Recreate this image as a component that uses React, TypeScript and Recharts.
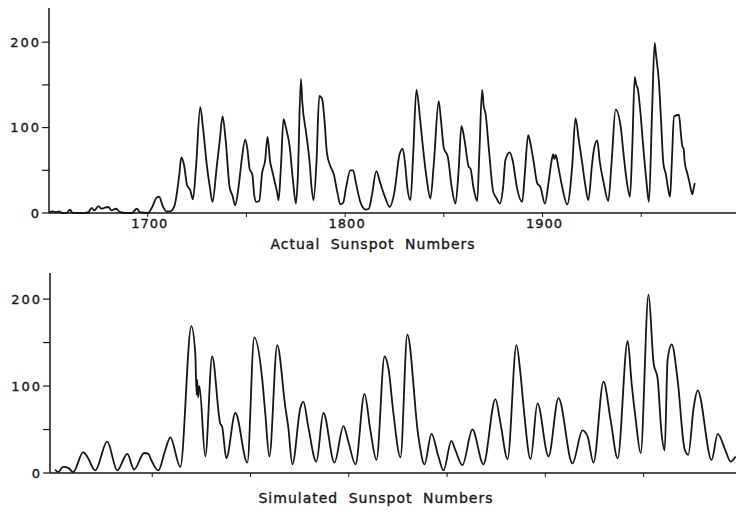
import { LineChart, Line, XAxis, YAxis } from 'recharts';

// Actual sunspot numbers (year, value)
const actualYears = [
  1650, 1652, 1653.5, 1655, 1657, 1659, 1660.6, 1662, 1668, 1670, 1671.6, 1673, 1675, 1676.7, 1678, 1680,
  1681.7, 1684, 1686, 1689, 1692, 1694.5, 1696, 1700, 1702.5, 1704.5, 1705.8, 1707.8, 1709.5, 1711.4,
  1713.5, 1716, 1717, 1718.5, 1719.9, 1721.5, 1722.9, 1724.5, 1726.6, 1728, 1730, 1731.5, 1732.8, 1735,
  1736.5, 1737.9, 1739.5, 1741.5, 1743, 1744.3, 1746, 1747.5, 1749.4, 1750.5, 1751.6, 1753, 1754, 1755,
  1756.5, 1757.9, 1759.5, 1760.7, 1762, 1763, 1764.5, 1765.5, 1766.3, 1767.5, 1768.8, 1770, 1771.9, 1773.5,
  1775.1, 1776, 1777.6, 1778.3, 1780.3, 1782, 1783, 1784, 1785.5, 1786.9, 1788.3, 1789.5, 1790.8, 1792.5,
  1794.2, 1796, 1797.6, 1799, 1800.5, 1802.6, 1804, 1805.5, 1807.7, 1810.4, 1812, 1813.5, 1815.8, 1817.8,
  1820, 1822.6, 1825, 1827.6, 1829.2, 1830.5, 1831.5, 1833.1, 1834.5, 1836.1, 1838.1, 1839.5, 1841.2,
  1843.2, 1845, 1847.4, 1848.5, 1850, 1852, 1854, 1855.9, 1857.5, 1858.9, 1860.5, 1862.6, 1863.5, 1865,
  1866.9, 1868, 1869.4, 1870.2, 1871.1, 1873, 1875, 1876.5, 1878.4, 1880, 1881.2, 1883.4, 1885, 1887,
  1889.7, 1891, 1892.7, 1894, 1895.5, 1897.3, 1899, 1901.2, 1903, 1904.5, 1905.4, 1906, 1906.7, 1908, 1910,
  1912.5, 1915, 1916.7, 1918.4, 1920, 1921.5, 1923.2, 1925, 1926, 1927.7, 1929, 1931, 1933.3, 1935, 1937,
  1939.6, 1941, 1942.5, 1944.3, 1945.5, 1946.7, 1947.5, 1948.3, 1949.5, 1951, 1952.5, 1953.9, 1955.5,
  1956.8, 1957.5, 1959, 1960, 1961.2, 1962.5, 1963.5, 1964.6, 1965.5, 1966.6, 1969.1, 1970, 1970.8,
  1971.5, 1972, 1973.4, 1974.5, 1975.9, 1976.5, 1977.1,
];
const actualSpots = [
  1, 2, 1, 2, 0, 0, 4, 0, 0, 1, 6, 3, 8, 5, 6, 7,
  3, 5, 1, 0, 0, 5, 1, 0, 8, 18, 19, 7, 2, 2,
  8, 45, 65, 55, 33, 27, 16, 55, 124, 100, 55, 30, 13, 55,
  85, 113, 85, 30, 20, 9, 30, 60, 86, 75, 52, 45, 20, 13,
  14, 46, 62, 89, 60, 50, 35, 25, 15, 55, 110, 100, 78, 40,
  11, 40, 157, 130, 93, 60, 30, 15, 60, 137, 134, 110, 70, 55,
  46, 25, 10, 12, 30, 50, 50, 35, 13, 4, 5, 20, 49, 35,
  20, 7, 25, 69, 75, 55, 30, 15, 70, 144, 107, 75, 42,
  17, 60, 131, 110, 76, 66, 30, 11, 50, 102, 85, 54, 52, 30,
  14, 70, 144, 125, 117, 70, 25, 18, 11, 30, 62, 71, 60, 30,
  13, 45, 91, 80, 60, 35, 30, 11, 35, 60, 69, 63, 68, 54, 30,
  10, 54, 111, 85, 60, 35, 15, 55, 74, 85, 60, 35, 14, 60, 121,
  101, 70, 40, 19, 80, 159, 150, 145, 120, 78, 40, 13, 120,
  199, 185, 152, 110, 58, 45, 30, 19, 60, 113, 115, 95, 78,
  75, 60, 46, 35, 22, 28, 35,
];

// Simulated sunspot numbers
const simYears = [
  1650.6, 1652.1, 1654.7, 1657.2, 1659.8, 1664.9, 1666.9, 1671, 1677.1, 1682.2, 1687.3, 1690.8, 1695.9,
  1698, 1699.5, 1703.1, 1706.6, 1709.2, 1714.3, 1719.9, 1721.9, 1722.6, 1722.9, 1723.4, 1724, 1727, 1730.5,
  1734.6, 1735.6, 1737.7, 1742.3, 1748.4, 1751.9, 1756, 1757.5, 1759.6, 1763.6, 1767.7, 1769.2, 1771.3,
  1775.4, 1776.9, 1779.4, 1783.5, 1787.1, 1792.7, 1797.3, 1799.8, 1803.4, 1808, 1811, 1814.1, 1818.2,
  1820.2, 1822.7, 1826.3, 1829.8, 1835.4, 1838.5, 1842.1, 1845.6, 1848.2, 1852.2, 1854.3, 1857.8, 1862.9,
  1868.5, 1874.6, 1877.2, 1880.8, 1885.3, 1887.4, 1888.9, 1892.5, 1896, 1901.6, 1906.7, 1913.8, 1918.9,
  1921.5, 1924.5, 1929.6, 1933.2, 1936.8, 1941.9, 1943.9, 1946, 1948.5, 1952.5, 1955.1, 1957.1, 1959.1,
  1960.7, 1962.2, 1964.3, 1967.3, 1970.8, 1972.7, 1975.5, 1977.5, 1984.6, 1987.7, 1991.6, 1994.3, 1996.8,
];
const simSpots = [
  4, 1, 7, 6, 1, 24, 19, 3, 36, 3, 22, 4, 23,
  22, 15, 3, 26, 41, 7, 169, 138, 90, 107, 87, 100, 19, 134,
  57, 53, 17, 69, 12, 156, 107, 69, 19, 147, 76, 53, 10,
  75, 82, 53, 13, 69, 12, 54, 36, 10, 91, 49, 15, 134,
  120, 69, 18, 159, 42, 10, 45, 19, 3, 37, 26, 9, 50,
  10, 85, 57, 16, 147, 113, 77, 16, 80, 19, 86, 11, 49,
  42, 12, 105, 61, 17, 152, 103, 61, 23, 205, 126, 109, 46,
  26, 130, 148, 107, 28, 21, 76, 95, 15, 45, 26, 13, 19,
];

const yTicks = [0, 50, 100, 150, 200];
const xTicks = [1700, 1750, 1800, 1850, 1900, 1950];
const labelledYears = [1700, 1800, 1900];

const actualData = actualYears.map((year, i) => ({ year, v: actualSpots[i] }));
const simData = simYears.map((year, i) => ({ year, v: simSpots[i] }));

const ink = '#151515';
const font = '"DejaVu Sans", sans-serif';

function YTick({ x, y, payload }: any) {
  if (payload.value % 100 !== 0) return <g />;
  return (
    <text
      x={x}
      y={y}
      dy={4.5}
      textAnchor="end"
      fill={ink}
      stroke={ink}
      strokeWidth={0.35}
      fontSize={13}
      fontFamily={font}
      letterSpacing={2}
    >
      {payload.value}
    </text>
  );
}

function makeXTick(showLabels: boolean) {
  return function XTick({ x, y, payload }: any) {
    if (!showLabels || !labelledYears.includes(payload.value)) return <g />;
    return (
      <text
        x={x + 2}
        y={y}
        dy={10}
        textAnchor="middle"
        fill={ink}
        stroke={ink}
        strokeWidth={0.35}
        fontSize={13}
        fontFamily={font}
        letterSpacing={1}
      >
        {payload.value}
      </text>
    );
  };
}

const axisLine = { stroke: ink, strokeWidth: 1.5 };

function Title({ text, cx, cy }: { text: string; cx: number; cy: number }) {
  return (
    <div
      style={{
        position: 'absolute',
        left: cx,
        top: cy,
        transform: 'translate(-50%, -50%)',
        whiteSpace: 'nowrap',
        fontFamily: font,
        fontSize: 14,
        letterSpacing: 1,
        wordSpacing: 5,
        color: ink,
        WebkitTextStroke: '0.35px #151515',
      }}
    >
      {text}
    </div>
  );
}

export default function App() {
  return (
    <div style={{ position: 'absolute', left: 0, top: 0, width: 736, height: 516, background: '#fff', overflow: 'hidden' }}>
      <div style={{ position: 'absolute', left: 0, top: 0 }}>
        <LineChart width={736} height={260} data={actualData} margin={{ top: 8, right: 0, bottom: 0, left: 0 }}>
          <XAxis
            dataKey="year"
            type="number"
            domain={[1650, 1998]}
            ticks={xTicks}
            allowDataOverflow
            height={47}
            tickSize={4}
            tickMargin={1}
            axisLine={axisLine}
            tickLine={{ stroke: ink }}
            tick={makeXTick(true)}
          />
          <YAxis
            type="number"
            domain={[0, 240]}
            ticks={yTicks}
            width={49}
            tickSize={7}
            tickMargin={1}
            axisLine={axisLine}
            tickLine={{ stroke: ink, strokeWidth: 1.2 }}
            tick={YTick}
          />
          <Line dataKey="v" type="monotone" stroke={ink} strokeWidth={1.8} dot={false} isAnimationActive={false} />
        </LineChart>
      </div>
      <Title text="Actual Sunspot Numbers" cx={373} cy={244} />

      <div style={{ position: 'absolute', left: 0, top: 265 }}>
        <LineChart width={736} height={240} data={simData} margin={{ top: 8, right: 0, bottom: 0, left: 0 }}>
          <XAxis
            dataKey="year"
            type="number"
            domain={[1648, 1997]}
            ticks={xTicks}
            allowDataOverflow
            height={32}
            tickSize={4}
            tickMargin={1}
            axisLine={axisLine}
            tickLine={{ stroke: ink }}
            tick={makeXTick(false)}
          />
          <YAxis
            type="number"
            domain={[0, 230]}
            ticks={yTicks}
            width={50}
            tickSize={7}
            tickMargin={1}
            axisLine={axisLine}
            tickLine={{ stroke: ink, strokeWidth: 1.2 }}
            tick={YTick}
          />
          <Line dataKey="v" type="monotone" stroke={ink} strokeWidth={1.8} dot={false} isAnimationActive={false} />
        </LineChart>
      </div>
      <Title text="Simulated Sunspot Numbers" cx={376} cy={498} />
    </div>
  );
}
